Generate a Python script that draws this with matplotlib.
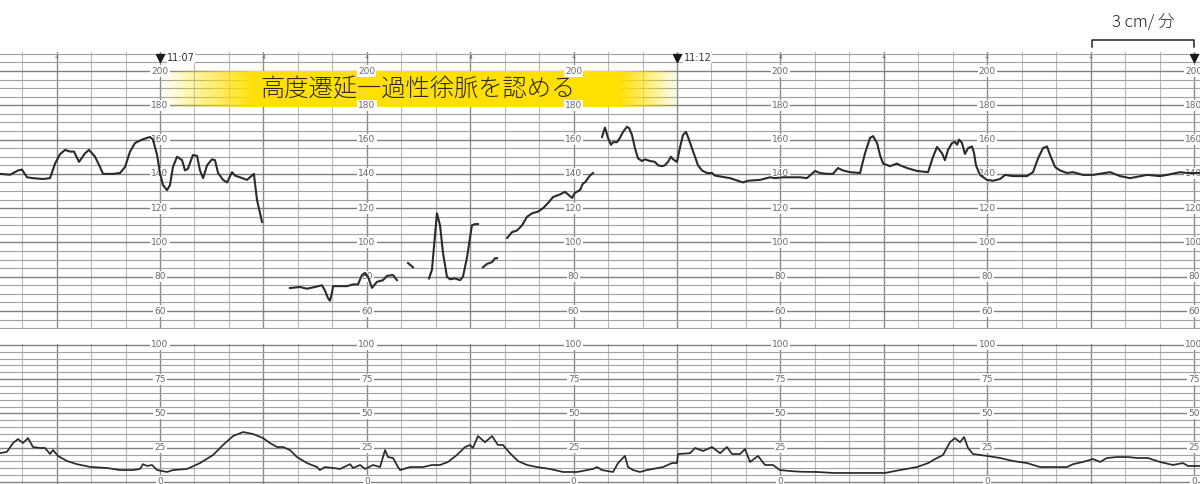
import numpy as np
import matplotlib
matplotlib.use('Agg')
import matplotlib.pyplot as plt

plt.rcParams['font.family'] = ['Noto Sans CJK JP', 'DejaVu Sans']

# time axis: seconds after 11:07:00 (paper speed 3 cm/min)
# fetal heart rate, broken into the pieces that were recorded
seg1_t = [-92.8, -87.0, -82.4, -80.1, -77.2, -73.7, -67.9, -63.8, -60.9, -58.0,
          -55.1, -52.2, -49.9, -47.0, -43.5, -41.2, -37.7, -34.8, -33.1, -27.3,
          -23.2, -20.3, -17.4, -14.5, -10.4, -7.5, -5.8, -4.1, -1.7, 0.0,
          1.7, 4.1, 5.8, 7.5, 9.9, 12.8, 14.5, 16.2, 19.1, 21.5,
          23.2, 25.0, 27.3, 30.2, 31.9, 33.7, 36.6, 38.9, 41.8, 43.5,
          46.4, 50.5, 53.4, 54.5, 55.1, 56.3, 59.2]
seg1_bpm = [140, 139.5, 142, 142.5, 138, 137.5, 137, 137.5, 146, 151.5,
            154, 153, 153, 147, 152, 154, 150, 144, 140, 140,
            140.5, 144, 153, 158, 160, 161, 161.5, 160, 151, 140.5,
            133.5, 130.5, 133.5, 144, 150, 148, 142, 143, 151, 150.5,
            142, 137.5, 145, 148.5, 148, 140.5, 136.5, 135, 141, 139,
            138, 136.5, 139, 140, 134.7, 124.7, 112]
seg2_t = [75.4, 81.2, 85.3, 89.9, 94.0, 95.7, 97.5, 98.6, 99.8, 100.4,
          108.5, 112.0, 114.9, 117.2, 119.0, 120.7, 123.0, 125.9, 129.4, 131.7,
          135.2, 137.5]
seg2_bpm = [73.4, 74, 73, 74, 75, 72, 67.5, 66, 70.5, 74.5,
            74.5, 75.5, 75.5, 81, 82, 80, 73.5, 77, 78, 80.5,
            81, 78]
seg3_t = [143.9, 146.8]
seg3_bpm = [88, 85.5]
seg4_t = [156.1, 157.8, 160.7, 162.5, 164.2, 166.5, 168.3, 171.2, 174.1, 175.8,
          178.2, 181.0, 182.8, 184.5]
seg4_bpm = [79, 84, 117, 110, 94, 80, 78.5, 79, 78, 80,
            91.5, 110, 110.7, 110.7]
seg5_t = [187.4, 189.8, 192.7, 194.4, 195.6]
seg5_bpm = [85.5, 87.5, 88.5, 90.8, 90.8]
seg6_t = [201.4, 204.3, 207.2, 210.1, 213.0, 215.9, 219.4, 222.3, 225.2, 228.1,
          232.1, 235.0, 236.8, 239.1, 240.8, 243.7, 245.5, 246.6, 249.5, 251.3]
seg6_bpm = [102.6, 106, 107, 110, 115, 117, 118, 120, 123, 126.5,
            128, 129.5, 128, 126, 129, 130.5, 134.5, 135, 139, 140.5]
seg7_t = [256.5, 258.2, 260.0, 261.7, 262.9, 265.2, 266.9, 268.7, 271.0, 272.2,
          273.9, 275.6, 277.4, 279.7, 281.4, 284.3, 287.2, 289.0, 291.3, 293.0,
          294.8, 296.5, 297.7, 300.0, 301.8, 303.5, 305.2, 306.4, 308.7, 310.5,
          312.2, 314.5, 317.4, 320.3, 322.1, 330.8, 338.3, 341.2, 348.2, 354.0,
          356.9, 361.5, 367.3, 371.4, 375.4, 380.1, 383.0, 387.1, 390.5, 393.4,
          396.3, 400.4, 406.2, 409.1, 412.0, 413.8, 416.1, 417.8, 419.6, 423.6,
          427.7, 429.4, 433.5, 439.3, 445.7, 448.6, 450.9, 453.8, 455.5, 457.3,
          459.6, 461.3, 462.5, 463.7, 465.4, 467.1, 468.9, 471.2, 472.4, 473.5,
          475.8, 479.9, 483.4, 487.5, 490.4, 495.0, 503.1, 506.6, 509.5, 512.4,
          514.7, 516.5, 519.4, 522.3, 526.3, 529.8, 535.6, 541.4, 551.3, 557.1,
          562.9, 572.8, 580.3, 584.4, 591.9, 596.0, 603.5]
seg7_bpm = [161.5, 167, 161, 157, 158.5, 158.5, 161, 164.5, 167.5, 166.7,
            162.7, 155, 149, 147.5, 148.5, 147.5, 147, 145, 144.5, 145,
            147, 150, 148.5, 147, 155.7, 162.7, 164.5, 161.5, 155, 150,
            145, 142, 140.5, 140.5, 139, 137.5, 135, 136, 136.5, 138,
            137.5, 138, 138, 138, 137.5, 141.7, 140.5, 140, 140, 143.4,
            142, 141, 140.5, 152, 161, 162, 158, 151, 146, 144.5,
            146, 145, 143.4, 141.7, 141, 150, 155.7, 152, 148, 154,
            158, 158.6, 157, 160, 158, 151.6, 155, 156, 152, 145,
            139.4, 136.5, 136, 137, 139.4, 138.7, 138.7, 141, 149, 155,
            156, 151, 144, 142, 140.5, 141, 139.4, 139.4, 141, 138.7,
            137.5, 139.4, 138.7, 139.4, 141, 140.5, 140.5]

# uterine contractions
uc_t = [-92.8, -88.8, -85.3, -82.4, -79.5, -76.6, -73.7, -69.6, -66.7, -63.8,
        -62.1, -59.2, -54.0, -48.2, -40.6, -30.8, -23.2, -15.7, -11.6, -9.9,
        -7.5, -4.6, -1.7, 4.1, 7.5, 15.7, 23.2, 30.8, 36.6, 42.4,
        48.2, 54.0, 59.8, 63.8, 67.9, 71.4, 75.4, 79.5, 85.3, 91.1,
        92.8, 95.7, 100.4, 104.5, 110.3, 112.0, 116.1, 119.0, 123.6, 127.7,
        130.6, 132.3, 135.2, 138.1, 139.3, 145.1, 149.1, 152.6, 157.8, 162.5,
        167.1, 172.3, 177.0, 179.9, 181.6, 184.5, 188.6, 192.7, 196.1, 199.0,
        203.1, 207.7, 213.0, 218.8, 226.3, 233.9, 242.0, 251.3, 253.6, 256.5,
        262.9, 265.8, 269.8, 271.6, 274.5, 278.5, 282.6, 291.9, 297.1, 300.0,
        300.6, 307.6, 310.5, 315.1, 320.3, 325.0, 329.0, 331.9, 336.6, 339.5,
        342.4, 347.0, 351.1, 355.7, 359.8, 365.6, 371.4, 381.3, 390.5, 410.3,
        420.7, 429.4, 439.3, 445.7, 450.9, 454.4, 458.4, 461.3, 464.2, 466.6,
        468.9, 471.8, 479.9, 487.5, 495.0, 503.1, 510.7, 518.2, 526.3, 529.8,
        535.6, 541.4, 545.5, 549.5, 555.3, 561.7, 567.0, 573.3, 580.3, 587.8,
        593.6, 596.5, 603.5]
uc_val = [21, 22, 28.4, 31.3, 28.4, 32, 25.5, 24.8, 24.8, 20.4,
          23.3, 19, 15.3, 13, 11, 10.2, 8.7, 8.7, 9.5, 13,
          11.7, 12.4, 8.7, 7.3, 8.7, 9.5, 13.8, 19.7, 27, 33.5,
          36.4, 35, 32, 28.4, 25.5, 25.5, 23.3, 18.2, 13.8, 10.9,
          8.7, 10.9, 10.2, 9.5, 13, 10.2, 12.4, 9.5, 12.4, 10.9,
          23.3, 18.2, 17.5, 10.9, 8.7, 10.9, 10.9, 10.9, 12.4, 12.4,
          14.6, 19.7, 25.5, 27, 24.8, 33.5, 29, 33.5, 27, 27,
          21, 15.3, 12.4, 10.9, 9.5, 7.3, 7.3, 9.5, 10.9, 8.7,
          7.3, 13.8, 19, 10.9, 8.7, 7.3, 8.7, 10.9, 13.8, 13.8,
          20.4, 21, 24.8, 22.6, 25.5, 21, 25.5, 20.4, 20.4, 24,
          14.6, 19, 12.4, 12.4, 8.7, 8, 7.5, 7.3, 6.6, 6.6,
          6.6, 8.7, 10.9, 13.8, 17.5, 19.7, 29, 32, 29, 32.8,
          24.8, 20.4, 19, 17.5, 15.3, 13.8, 10.9, 10.9, 10.9, 13,
          14.6, 16.8, 14.6, 17.5, 18.2, 18.2, 17.5, 17.5, 14.6, 12.4,
          13.8, 11.7, 11.7]

time_marks = [0, 300, 600]
time_labels = ['11:07', '11:12', '11:17']
scale_cols = [0, 120, 240, 360, 480, 600]
fhr_labels = [200, 180, 160, 140, 120, 100, 80, 60]
uc_labels = [100, 75, 50, 25, 0]
note = '高度遷延一過性徐脈を認める'
speed_note = '3 cm/ 分'

T0, T1 = -92.85, 603.5

fig = plt.figure(figsize=(12, 4.84), dpi=100)
ax1 = fig.add_axes([0, 1 - 329 / 484, 1, (329 - 52) / 484])
ax2 = fig.add_axes([0, 0, 1, (484 - 344) / 484])


def paper(ax, y0, y1, step, strong):
    for v in np.arange(-80, T1, 20):
        if v % 60 == 0:
            ax.axvline(v, color='#8a8a8a', lw=1.0, zorder=0)
        else:
            ax.axvline(v, color='#bababa', lw=0.8, zorder=0)
    for h in np.arange(y0, y1 + 0.1, step):
        if h % strong == 0:
            ax.axhline(h, color='#808080', lw=1.0, zorder=0)
        else:
            ax.axhline(h, color='#a2a2a2', lw=0.8, zorder=0)
    for s in ax.spines.values():
        s.set_visible(False)
    ax.set_xticks([])
    ax.set_yticks([])


paper(ax1, 50, 210, 5, 20)
paper(ax2, 0, 100, 5, 25)

# yellow note band with faded ends
xs = np.linspace(0, 302, 700)
alpha = np.interp(xs, [0, 56, 266, 302], [0, 1, 1, 0])
band = np.zeros((1, len(xs), 4))
band[..., 0] = 1.0
band[..., 1] = 0.882
band[..., 2] = 0.0
band[..., 3] = alpha
ax1.imshow(band, extent=[0, 302, 179, 200], aspect='auto', zorder=1,
           interpolation='bilinear')
ax1.text(150, 188.8, note, ha='center', va='center', fontsize=17.5,
         fontweight='light', color='#2a2a2a', zorder=5)

# scale labels on the paper
for c in scale_cols:
    for v in fhr_labels:
        ax1.text(c, v, str(v), ha='center', va='center', fontsize=6.5,
                 color='#6a6a6a', family='DejaVu Sans', zorder=3,
                 bbox=dict(facecolor='white', edgecolor='none', pad=0.8))
    for v in uc_labels:
        ax2.text(c, v, str(v), ha='center', va='center', fontsize=6.5,
                 color='#6a6a6a', family='DejaVu Sans', zorder=3,
                 bbox=dict(facecolor='white', edgecolor='none', pad=0.8))

# minute marks along the top
for m in range(-60, 601, 60):
    if m in time_marks:
        ax1.plot(m, 207.6, marker='v', color='#1a1a1a', markersize=6,
                 zorder=4, clip_on=False)
        lab = time_labels[time_marks.index(m)]
        ax1.text(m + 4, 207.6, lab, ha='left', va='center', fontsize=7,
                 color='#333333', family='DejaVu Sans', zorder=4,
                 bbox=dict(facecolor='white', edgecolor='none', pad=0.3))
    else:
        ax1.text(m, 208, '4', ha='center', va='center', fontsize=4.5,
                 color='#666666', family='DejaVu Sans', zorder=4)

# traces
fhr_t = (seg1_t + [np.nan] + seg2_t + [np.nan] + seg3_t + [np.nan] + seg4_t
         + [np.nan] + seg5_t + [np.nan] + seg6_t + [np.nan] + seg7_t)
fhr_bpm = (seg1_bpm + [np.nan] + seg2_bpm + [np.nan] + seg3_bpm + [np.nan]
           + seg4_bpm + [np.nan] + seg5_bpm + [np.nan] + seg6_bpm + [np.nan]
           + seg7_bpm)
ax1.plot(fhr_t, fhr_bpm, color='#2b2b2b', lw=1.5, zorder=4,
         solid_joinstyle='round')
ax2.plot(uc_t, uc_val, color='#2b2b2b', lw=1.25, zorder=4,
         solid_joinstyle='round')

# paper speed bracket
ax1.plot([541, 541, 600, 600], [214.3, 218.2, 218.2, 214.3], color='#222222',
         lw=1.1, clip_on=False)
ax1.text(570.5, 228.2, speed_note, ha='center', va='center', fontsize=12,
         fontweight='light', color='#222222', clip_on=False)

ax1.set_xlim(T0, T1)
ax1.set_ylim(49.5, 211.1)
ax2.set_xlim(T0, T1)
ax2.set_ylim(-1.46, 100.6)

fig.savefig('out.png', dpi=100)
